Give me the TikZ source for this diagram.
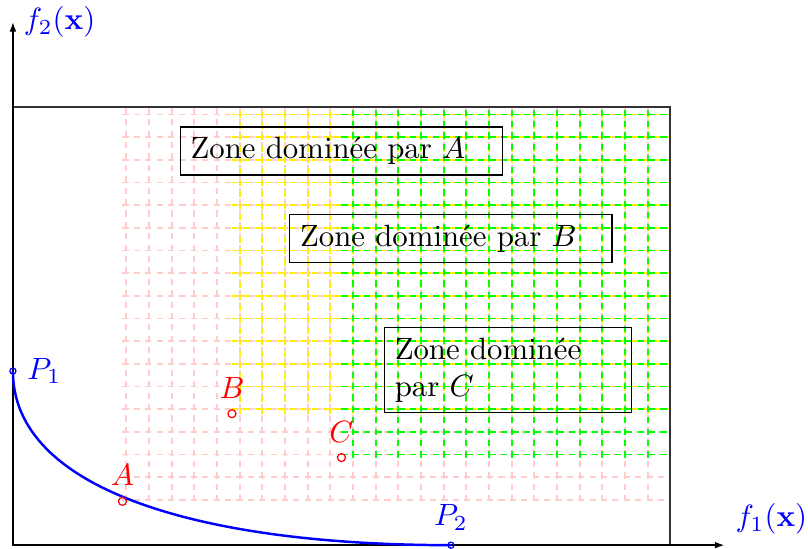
\documentclass[tikz,border=0pt]{standalone}
\usepackage{amsmath,amssymb,bm}
\usetikzlibrary{arrows.meta}

\begin{document}
\begin{tikzpicture}[>={Latex[length=3.2pt,width=2.2pt]},scale=0.25,
  pt/.style={circle,draw,inner sep=0pt,minimum size=2.6pt},
  zone/.style={draw,align=left,inner sep=3.33pt},
  dom/.style={semithick,dash pattern=on 2pt off 1.7pt,step=1.035}]
\useasboundingbox (-0.59,-0.14) rectangle (36.3,24.89);
\coordinate (O) at (0,0);
\coordinate (H) at (30,20);
\coordinate (a) at (5,2);
\coordinate (b) at (10,6);
\coordinate (c) at (15,4);
\coordinate (xend) at (32.5,0);
\coordinate (yend) at (0,23.9);
% zones dominees
\draw[red!20,dom] (a) grid (H);
\draw[yellow,dom] (b) grid (H);
\draw[green,dom] (c) grid (H);
\draw[black!80,semithick] (O) rectangle (H);
% axes
\draw[->,semithick] (O) -- (xend);
\draw[->,semithick] (O) -- (yend);
\node[above right,blue] (f1) at (xend) {$f_1(\mathbf{x})$};
\node[right,blue] (f2) at (yend) {$f_2(\mathbf{x})$};
% front de Pareto
\node[pt,blue,minimum size=2pt,label={[blue]right:$P_1$}] (P1) at (0,7.95) {};
\node[pt,blue,minimum size=2pt,label={[blue]above:$P_2$}] (P2) at (20,0) {};
\draw[blue,thick] (P1.center) .. controls (0,2.5) and (8.6,0) .. (P2.center);
\node[pt,red,label={[red]above:$A$}] (A) at (a) {};
\node[pt,red,label={[red]above:$B$}] (B) at (b) {};
\node[pt,red,label={[red]above:$C$}] (C) at (c) {};
% etiquettes
\node[zone,text width=98pt] (zA) at (15,18) {Zone dominée par $A$};
\node[zone,text width=98pt] (zB) at (20,14) {Zone dominée par $B$};
\node[zone,text width=73.5pt] (zC) at (22.6,8) {Zone dominée par $C$};
\end{tikzpicture}
\end{document}
